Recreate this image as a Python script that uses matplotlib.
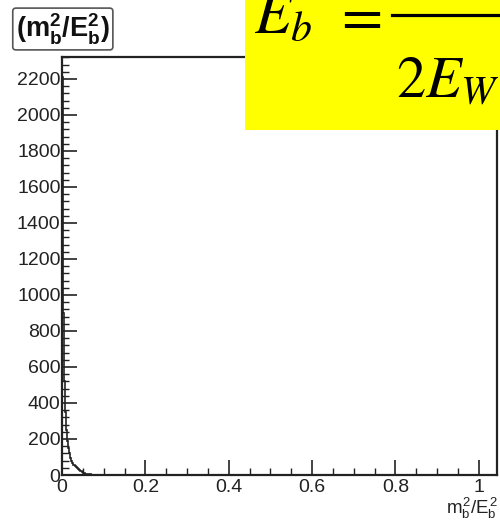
import numpy as np
import matplotlib
matplotlib.use("Agg")
import matplotlib.pyplot as plt
from matplotlib.patches import Rectangle
from matplotlib.lines import Line2D
from matplotlib.ticker import MultipleLocator

plt.rcParams['mathtext.fontset'] = 'custom'
plt.rcParams['mathtext.rm'] = 'Liberation Sans'
plt.rcParams['mathtext.it'] = 'Liberation Sans'
plt.rcParams['mathtext.bf'] = 'Liberation Sans:bold'
plt.rcParams['font.family'] = ['Liberation Sans', 'DejaVu Sans']

# ---- data (histogram of m_b^2/E_b^2, bin width 0.0025) ----
bin_width = 0.0025
counts_head = [2210, 900, 520, 350, 250, 190, 150, 120, 95, 80, 68, 58, 50, 44,
               39, 34, 29, 24, 20, 16, 13, 10, 8, 6, 5, 4, 3, 3, 2, 2, 1, 1]
n_bins = 400
counts = np.array(counts_head + [0] * (n_bins - len(counts_head)), dtype=float)
edges = np.arange(n_bins + 1) * bin_width

x_ticks = [0, 0.2, 0.4, 0.6, 0.8, 1]
x_ticklabels = ['0', '0.2', '0.4', '0.6', '0.8', '1']
y_ticks = [0, 200, 400, 600, 800, 1000, 1200, 1400, 1600, 1800, 2000, 2200]

W, H = 500, 525
fig = plt.figure(figsize=(W / 100, H / 100), dpi=100)
ax = fig.add_axes([62 / W, 1 - 475 / H, (497 - 62) / W, (475 - 57) / H])

ax.stairs(counts, edges, color='#222222', lw=1.2)
ax.set_xlim(0, 1.044)
ax.set_ylim(0, 2322)

ax.set_xticks(x_ticks)
ax.set_xticklabels(x_ticklabels)
ax.set_yticks(y_ticks)
ax.set_yticklabels([str(v) for v in y_ticks])
ax.xaxis.set_minor_locator(MultipleLocator(0.05))
ax.yaxis.set_minor_locator(MultipleLocator(40))
ax.tick_params(axis='both', which='both', direction='in', colors='#222222',
               labelsize=14, top=False, right=False)
ax.tick_params(axis='both', which='major', length=11, width=1.2, pad=3)
ax.tick_params(axis='y', which='major', pad=1)
ax.tick_params(axis='both', which='minor', length=5, width=1.0)
for s in ax.spines.values():
    s.set_linewidth(1.6)
    s.set_color('#222222')

# x axis label
fig.text(498 / W, 1 - 521 / H, r'$m_b^2/E_b^2$', ha='right', va='bottom',
         fontsize=13.5, color='#222222')

# title box
fig.text(16 / W, 1 - 29 / H, r'$\mathbf{(m_b^2/E_b^2)}$', ha='left', va='center',
         fontsize=19.5, color='#111111',
         bbox=dict(boxstyle='round,pad=0.12', fc='white', ec='#555555', lw=1.2))

# yellow formula box
fig.patches.append(Rectangle((245 / W, 1 - 130 / H), (W - 245) / W, 130 / H,
                             transform=fig.transFigure, facecolor='#FFFF00',
                             edgecolor='none', zorder=10))
fig.text(254 / W, 1 - 33 / H, r'$E_b$', ha='left', va='baseline', fontsize=43,
         math_fontfamily='stix', zorder=11)
fig.text(333 / W, 1 - 33 / H, r'$=$', ha='left', va='baseline', fontsize=43,
         math_fontfamily='stix', zorder=11)
fig.lines.append(Line2D([392 / W, 1.0], [1 - 15 / H, 1 - 15 / H],
                        transform=fig.transFigure, color='black', lw=2.3, zorder=11))
fig.text(396 / W, 1 - 97 / H, r'$2E_W$', ha='left', va='baseline', fontsize=42,
         math_fontfamily='stix', zorder=11)

fig.savefig('out.png', dpi=100)
